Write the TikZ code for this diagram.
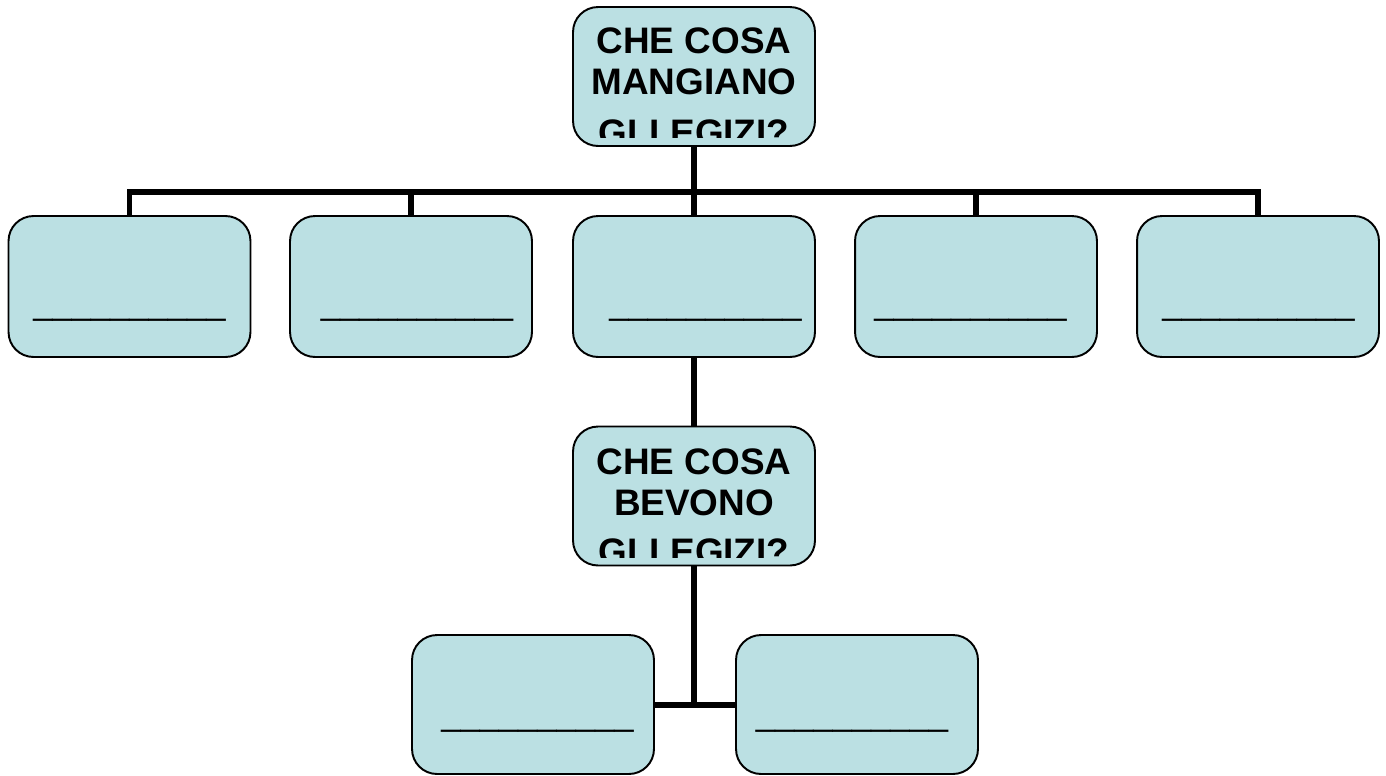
\documentclass[tikz,border=0pt]{standalone}
\usepackage{fontspec}
\setmainfont{Liberation Sans}
\definecolor{boxblue}{HTML}{BBE0E3}
\tikzset{
  qbox/.style={draw=black,line width=1.1pt,fill=boxblue,rounded corners=.5cm,
    minimum width=4.84cm,minimum height=2.78cm,inner sep=0pt},
  link/.style={line width=3.4pt},
  qtext/.style={font=\fontsize{21}{23.6}\selectfont\bfseries,align=center,inner sep=0pt},
  blank/.style={font=\fontsize{19.7}{22}\selectfont,anchor=base,inner sep=0pt}
}
\begin{document}
\begin{tikzpicture}[x=.02cm,y=-.02cm]
  \useasboundingbox (0,0) rectangle (1386,775);
  % domande
  \node[qbox] (q1) at (694,76.5) {};
  \node[qbox] (q2) at (694,496) {};
  % cibi
  \foreach \i/\x/\u in {1/129.5/129.5,2/411/417,3/694/705.5,4/976/970.5,5/1258/1258.5}{
    \node[qbox,minimum height=2.82cm] (f\i) at (\x,286.5) {};
    \node[blank] (uf\i) at (\u,314.5) {\_\_\_\_\_\_\_\_\_\_};
  }
  % bevande
  \node[qbox] (d1) at (533,704.5) {};
  \node[qbox] (d2) at (857,704.5) {};
  \node[blank] (ud1) at (537.5,725.5) {\_\_\_\_\_\_\_\_\_\_};
  \node[blank] (ud2) at (852,725.5) {\_\_\_\_\_\_\_\_\_\_};
  % testo tagliato in basso
  \begin{scope}
    \clip ([yshift=.18cm]q1.south west) rectangle (q1.north east);
    \node[qtext,yshift=-.2cm] (t1) at (q1.center) {CHE COSA\\MANGIANO\\[.18cm]GLI EGIZI?};
  \end{scope}
  \begin{scope}
    \clip ([yshift=.18cm]q2.south west) rectangle (q2.north east);
    \node[qtext,yshift=-.21cm] (t2) at (q2.center) {CHE COSA\\BEVONO\\[.14cm]GLI EGIZI?};
  \end{scope}
  % collegamenti
  \coordinate (bus) at (694,192);
  \draw[link] (q1.south) -- (bus);
  \foreach \i in {1,...,5} \draw[link] (f\i.north) |- (bus);
  \draw[link] (f3.south) -- (q2.north);
  \draw[link] (d1.east) -- (d2.west);
  \draw[link] (q2.south) -- (q2.south |- d1.east);
\end{tikzpicture}
\end{document}
